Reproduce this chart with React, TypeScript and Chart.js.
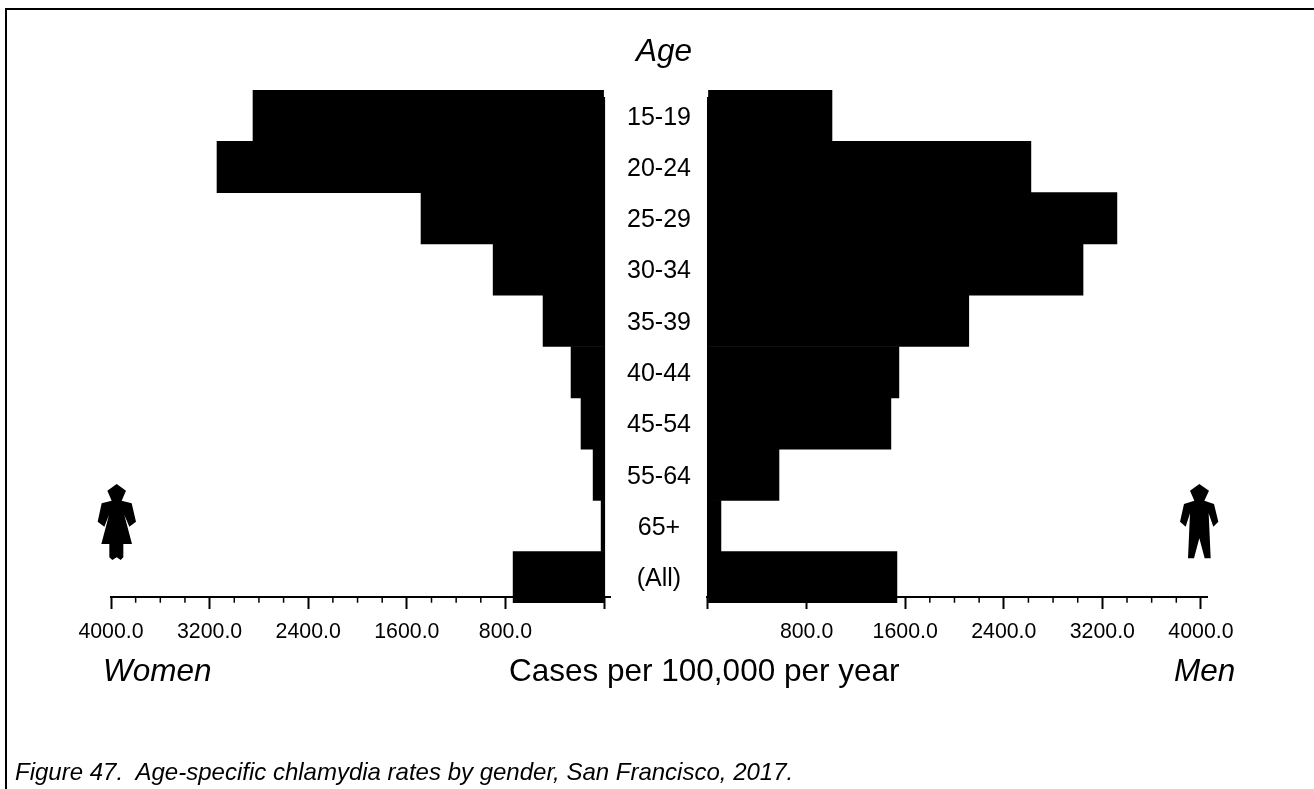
import React, { useEffect, useRef } from "react";
import { Chart, registerables } from "chart.js";

Chart.register(...registerables);

const ageGroups = ["15-19", "20-24", "25-29", "30-34", "35-39", "40-44", "45-54", "55-64", "65+", "(All)"];
const womenRates = [2848, 3140, 1485, 900, 495, 268, 187, 89, 24, 738];
const menRates = [1006, 2620, 3318, 3043, 2116, 1549, 1484, 576, 105, 1533];
const axisTicks = [0, 200, 400, 600, 800, 1000, 1200, 1400, 1600, 1800, 2000, 2200, 2400, 2600, 2800, 3000, 3200, 3400, 3600, 3800, 4000];

const FONT = '"Liberation Sans", Arial, sans-serif';
const AXIS_ROW = 9.38;
const SPINE_TOP_ROW = -0.364;

const isMajor = (v: number) => v % 800 === 0;

const decorPlugin = {
  id: "decor",
  afterDraw(chart: any) {
    const { ctx, scales } = chart;
    const x = scales.x;
    const y = scales.y;
    const axisY = y.getPixelForValue(AXIS_ROW);
    ctx.save();
    ctx.strokeStyle = "#000";
    // minor ticks
    ctx.lineWidth = 1.5;
    ctx.beginPath();
    axisTicks.filter((v) => !isMajor(v)).forEach((v) => {
      const px = x.getPixelForValue(v);
      ctx.moveTo(px, axisY);
      ctx.lineTo(px, axisY + 6);
    });
    ctx.stroke();
    // vertical spine at zero
    ctx.lineWidth = 2;
    ctx.beginPath();
    const zero = x.getPixelForValue(0);
    ctx.moveTo(zero, y.getPixelForValue(SPINE_TOP_ROW));
    ctx.lineTo(zero, axisY);
    ctx.stroke();
    ctx.restore();
  },
};

function makeChart(canvas: HTMLCanvasElement, values: number[], side: "women" | "men") {
  const women = side === "women";
  return new Chart(canvas, {
    type: "bar",
    plugins: [decorPlugin],
    data: {
      labels: ageGroups,
      datasets: [
        {
          label: women ? "Women" : "Men",
          data: values,
          backgroundColor: "#000",
          borderWidth: 0,
          barPercentage: 1,
          categoryPercentage: 1,
        },
      ],
    },
    options: {
      indexAxis: "y",
      responsive: false,
      animation: false,
      layout: {
        padding: women
          ? { left: 111, right: 604, top: 90, bottom: 186 }
          : { left: 707, right: 107, top: 90, bottom: 186 },
      },
      plugins: { legend: { display: false }, tooltip: { enabled: false }, title: { display: false } },
      scales: {
        x: {
          type: "linear",
          reverse: women,
          position: { y: AXIS_ROW },
          min: women ? -48 : -8,
          max: women ? 4000 : 4049,
          afterBuildTicks(scale: any) {
            scale.ticks = axisTicks.map((value) => ({ value }));
          },
          grid: {
            display: true,
            drawOnChartArea: false,
            drawTicks: true,
            tickLength: 11,
            tickWidth: 2,
            tickColor: (c: any) => (isMajor(c.tick.value) ? "#000" : "rgba(0,0,0,0)"),
          },
          border: { display: true, color: "#000", width: 2 },
          ticks: {
            autoSkip: false,
            maxRotation: 0,
            minRotation: 0,
            padding: 11,
            color: "#000",
            font: { family: FONT, size: 21.33 },
            callback: (v: any) => (isMajor(Number(v)) && Number(v) > 0 ? Number(v).toFixed(1) : ""),
          },
        },
        y: women
          ? {
              type: "category",
              position: "right",
              afterFit(scale: any) {
                scale.width = 100;
              },
              grid: { display: false, drawTicks: false },
              border: { display: false },
              ticks: {
                crossAlign: "center",
                padding: 17,
                labelOffset: 2,
                color: "#000",
                font: { family: FONT, size: 25 },
                autoSkip: false,
              },
            }
          : {
              type: "category",
              display: false,
              grid: { display: false },
            },
      },
    } as any,
  });
}

const abs = (s: React.CSSProperties): React.CSSProperties => ({
  position: "absolute",
  whiteSpace: "pre",
  fontFamily: FONT,
  color: "#000",
  lineHeight: 1,
  ...s,
});

const womanPoints =
  "170,42 198,62 185,92 215,100 228,155 208,170 193,135 216,222 190,222 190,262 182,270 170,262 157,270 148,262 148,222 124,222 147,135 133,170 113,155 125,100 155,92 142,62";
const manPoints =
  "208,42 237,62 223,92 252,102 265,155 250,170 236,130 242,265 224,265 208,205 192,265 174,265 180,130 167,170 150,155 162,102 193,92 180,62";

export default function App() {
  const womenRef = useRef<HTMLCanvasElement>(null);
  const menRef = useRef<HTMLCanvasElement>(null);

  useEffect(() => {
    const a = makeChart(womenRef.current!, womenRates, "women");
    const b = makeChart(menRef.current!, menRates, "men");
    return () => {
      a.destroy();
      b.destroy();
    };
  }, []);

  return (
    <div style={{ position: "fixed", left: 0, top: 0, width: 1314, height: 789, background: "#fff", overflow: "hidden" }}>
      <div style={{ position: "absolute", left: 5, top: 8, width: 1309, height: 2, background: "#000" }} />
      <div style={{ position: "absolute", left: 5, top: 8, width: 2, height: 781, background: "#000" }} />
      <canvas ref={womenRef} width={1314} height={789} style={{ position: "absolute", left: 0, top: 0, width: 1314, height: 789 }} />
      <canvas ref={menRef} width={1314} height={789} style={{ position: "absolute", left: 0, top: 0, width: 1314, height: 789 }} />
      <svg width={100} height={100} viewBox="0 0 300 300" style={{ position: "absolute", left: 60, top: 470 }}>
        <polygon points={womanPoints} fill="#000" />
      </svg>
      <svg width={100} height={100} viewBox="0 0 300 300" style={{ position: "absolute", left: 1130, top: 470 }}>
        <polygon points={manPoints} fill="#000" />
      </svg>
      <div style={abs({ left: 636, top: 35, fontSize: 31.5, fontStyle: "italic" })}>Age</div>
      <div style={abs({ left: 103, top: 655, fontSize: 31.5, fontStyle: "italic" })}>Women</div>
      <div style={abs({ left: 1174, top: 655, fontSize: 31.5, fontStyle: "italic" })}>Men</div>
      <div style={abs({ left: 509, top: 655, fontSize: 31.5 })}>Cases per 100,000 per year</div>
      <div style={abs({ left: 15, top: 760, fontSize: 24, fontStyle: "italic" })}>
        {"Figure 47.  Age-specific chlamydia rates by gender, San Francisco, 2017."}
      </div>
    </div>
  );
}
